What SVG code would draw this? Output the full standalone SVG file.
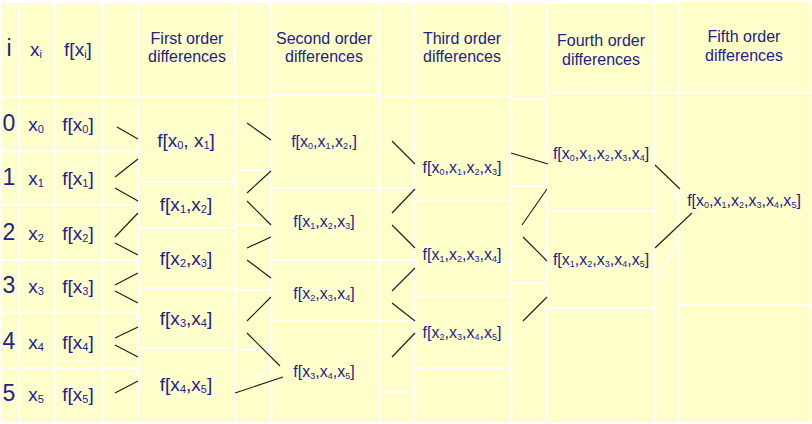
<svg xmlns="http://www.w3.org/2000/svg" width="812" height="424" viewBox="0 0 812 424">
<style>
.c{fill:#FFFFCC}
text{font-family:"Liberation Sans",Arial,sans-serif;fill:#222288;text-anchor:middle}
.big{font-size:23px}
.lab{font-size:19px}
.hd{font-size:16px}
.sm{font-size:16px}
.s1{font-size:11px}
.s2{font-size:9px}
.cn line{stroke:#1a1a1a;stroke-width:1.1}
.wl{stroke:#fff;stroke-width:1.5}
</style>
<rect width="812" height="424" fill="#fff"/>
<g id="grid">
<!-- C0..C2 -->
<g class="c">
<rect x="1" y="3" width="17" height="93"/><rect x="1" y="98" width="17" height="52"/><rect x="1" y="152" width="17" height="52"/><rect x="1" y="206" width="17" height="53"/><rect x="1" y="261" width="17" height="51"/><rect x="1" y="314" width="17" height="53"/><rect x="1" y="369" width="17" height="53"/>
<rect x="20" y="3" width="34" height="93"/><rect x="20" y="98" width="34" height="52"/><rect x="20" y="152" width="34" height="52"/><rect x="20" y="206" width="34" height="53"/><rect x="20" y="261" width="34" height="51"/><rect x="20" y="314" width="34" height="53"/><rect x="20" y="369" width="34" height="53"/>
<rect x="56" y="3" width="46" height="93"/><rect x="56" y="98" width="46" height="52"/><rect x="56" y="152" width="46" height="52"/><rect x="56" y="206" width="46" height="53"/><rect x="56" y="261" width="46" height="51"/><rect x="56" y="314" width="46" height="53"/><rect x="56" y="369" width="46" height="53"/>
<rect x="104" y="3" width="33" height="93"/><rect x="104" y="98" width="33" height="52"/><rect x="104" y="152" width="33" height="52"/><rect x="104" y="206" width="33" height="53"/><rect x="104" y="261" width="33" height="51"/><rect x="104" y="314" width="33" height="53"/><rect x="104" y="369" width="33" height="53"/>
<!-- first order -->
<rect x="139" y="3" width="95" height="93"/><rect x="139" y="98" width="95" height="83"/><rect x="139" y="183" width="95" height="44"/><rect x="139" y="229" width="95" height="58"/><rect x="139" y="289" width="95" height="58"/><rect x="139" y="349" width="95" height="73"/>
<rect x="236" y="3" width="34" height="93"/><rect x="236" y="98" width="34" height="71"/><rect x="236" y="171" width="34" height="53"/><rect x="236" y="226" width="34" height="63"/><rect x="236" y="291" width="34" height="58"/><rect x="236" y="351" width="34" height="71"/>
<!-- second order -->
<rect x="272" y="3" width="106" height="91"/><rect x="272" y="96" width="106" height="91"/><rect x="272" y="189" width="106" height="70"/><rect x="272" y="261" width="106" height="59"/><rect x="272" y="322" width="106" height="100"/>
<rect x="380" y="3" width="33" height="93"/><rect x="380" y="98" width="33" height="89"/><rect x="380" y="189" width="33" height="70"/><rect x="380" y="261" width="33" height="59"/><rect x="380" y="322" width="33" height="69"/><rect x="380" y="393" width="33" height="29"/>
<!-- third order -->
<rect x="415" y="3" width="95" height="93"/><rect x="415" y="98" width="95" height="102"/><rect x="415" y="202" width="95" height="94"/><rect x="415" y="298" width="95" height="69"/><rect x="415" y="369" width="95" height="53"/>
<rect x="512" y="3" width="33" height="95"/><rect x="512" y="100" width="33" height="85"/><rect x="512" y="187" width="33" height="95"/><rect x="512" y="284" width="33" height="138"/>
<!-- fourth order -->
<rect x="548" y="4" width="106" height="88"/><rect x="548" y="94" width="106" height="116"/><rect x="548" y="212" width="106" height="95"/><rect x="548" y="309" width="106" height="113"/>
<rect x="656" y="4" width="22" height="88"/><rect x="656" y="94" width="22" height="328"/>
<!-- fifth order -->
<rect x="680" y="2" width="131" height="90"/><rect x="680" y="94" width="131" height="210"/><rect x="680" y="306" width="131" height="116"/>
</g>
<line class="wl" x1="660" y1="183" x2="679" y2="198"/>
<line class="wl" x1="657" y1="282" x2="679" y2="237"/>
<line class="wl" x1="255" y1="380" x2="272" y2="363"/>
</g>
<g id="headers">
<g id="h-i"><text class="big" x="9" y="56">i</text></g>
<g id="h-x"><text class="lab" x="36" y="56">x<tspan class="s1" dy="2">i</tspan></text></g>
<g id="h-f"><text class="lab" x="78" y="56">f[x<tspan class="s1" dy="2">i</tspan><tspan dy="-2">]</tspan></text></g>
<g id="h-1"><text class="hd" x="187" y="44">First order</text><text class="hd" x="187" y="62">differences</text></g>
<g id="h-2"><text class="hd" x="324" y="44">Second order</text><text class="hd" x="324" y="62">differences</text></g>
<g id="h-3"><text class="hd" x="462" y="44">Third order</text><text class="hd" x="462" y="62">differences</text></g>
<g id="h-4"><text class="hd" x="601" y="46">Fourth order</text><text class="hd" x="601" y="65">differences</text></g>
<g id="h-5"><text class="hd" x="744" y="42">Fifth order</text><text class="hd" x="744" y="61">differences</text></g>
</g>
<g id="rows">
<g id="r0"><text class="big" x="9" y="131">0</text><text class="lab" x="36" y="131">x<tspan class="s1" dy="2">0</tspan></text><text class="lab" x="78" y="131">f[x<tspan class="s1" dy="2">0</tspan><tspan dy="-2">]</tspan></text></g>
<g id="r1"><text class="big" x="9" y="185">1</text><text class="lab" x="36" y="185">x<tspan class="s1" dy="2">1</tspan></text><text class="lab" x="78" y="185">f[x<tspan class="s1" dy="2">1</tspan><tspan dy="-2">]</tspan></text></g>
<g id="r2"><text class="big" x="9" y="240">2</text><text class="lab" x="36" y="240">x<tspan class="s1" dy="2">2</tspan></text><text class="lab" x="78" y="240">f[x<tspan class="s1" dy="2">2</tspan><tspan dy="-2">]</tspan></text></g>
<g id="r3"><text class="big" x="9" y="293">3</text><text class="lab" x="36" y="293">x<tspan class="s1" dy="2">3</tspan></text><text class="lab" x="78" y="293">f[x<tspan class="s1" dy="2">3</tspan><tspan dy="-2">]</tspan></text></g>
<g id="r4"><text class="big" x="9" y="349">4</text><text class="lab" x="36" y="349">x<tspan class="s1" dy="2">4</tspan></text><text class="lab" x="78" y="349">f[x<tspan class="s1" dy="2">4</tspan><tspan dy="-2">]</tspan></text></g>
<g id="r5"><text class="big" x="9" y="401">5</text><text class="lab" x="36" y="401">x<tspan class="s1" dy="2">5</tspan></text><text class="lab" x="78" y="401">f[x<tspan class="s1" dy="2">5</tspan><tspan dy="-2">]</tspan></text></g>
</g>
<g id="first">
<g id="d01"><text class="lab" x="186" y="147">f[x<tspan class="s1" dy="2">0</tspan><tspan dy="-2">, x</tspan><tspan class="s1" dy="2">1</tspan><tspan dy="-2">]</tspan></text></g>
<g id="d12"><text class="lab" x="186" y="211">f[x<tspan class="s1" dy="2">1</tspan><tspan dy="-2">,x</tspan><tspan class="s1" dy="2">2</tspan><tspan dy="-2">]</tspan></text></g>
<g id="d23"><text class="lab" x="186" y="265">f[x<tspan class="s1" dy="2">2</tspan><tspan dy="-2">,x</tspan><tspan class="s1" dy="2">3</tspan><tspan dy="-2">]</tspan></text></g>
<g id="d34"><text class="lab" x="186" y="325">f[x<tspan class="s1" dy="2">3</tspan><tspan dy="-2">,x</tspan><tspan class="s1" dy="2">4</tspan><tspan dy="-2">]</tspan></text></g>
<g id="d45"><text class="lab" x="186" y="391">f[x<tspan class="s1" dy="2">4</tspan><tspan dy="-2">,x</tspan><tspan class="s1" dy="2">5</tspan><tspan dy="-2">]</tspan></text></g>
</g>
<g id="second">
<g id="d012"><text class="sm" x="324" y="147">f[x<tspan class="s2" dy="2">0</tspan><tspan dy="-2">,x</tspan><tspan class="s2" dy="2">1</tspan><tspan dy="-2">,x</tspan><tspan class="s2" dy="2">2</tspan><tspan dy="-2">,]</tspan></text></g>
<g id="d123"><text class="sm" x="324" y="227">f[x<tspan class="s2" dy="2">1</tspan><tspan dy="-2">,x</tspan><tspan class="s2" dy="2">2</tspan><tspan dy="-2">,x</tspan><tspan class="s2" dy="2">3</tspan><tspan dy="-2">]</tspan></text></g>
<g id="d234"><text class="sm" x="324" y="299">f[x<tspan class="s2" dy="2">2</tspan><tspan dy="-2">,x</tspan><tspan class="s2" dy="2">3</tspan><tspan dy="-2">,x</tspan><tspan class="s2" dy="2">4</tspan><tspan dy="-2">]</tspan></text></g>
<g id="d345"><text class="sm" x="324" y="377">f[x<tspan class="s2" dy="2">3</tspan><tspan dy="-2">,x</tspan><tspan class="s2" dy="2">4</tspan><tspan dy="-2">,x</tspan><tspan class="s2" dy="2">5</tspan><tspan dy="-2">]</tspan></text></g>
</g>
<g id="third">
<g id="d0123"><text class="sm" x="462" y="173">f[x<tspan class="s2" dy="2">0</tspan><tspan dy="-2">,x</tspan><tspan class="s2" dy="2">1</tspan><tspan dy="-2">,x</tspan><tspan class="s2" dy="2">2</tspan><tspan dy="-2">,x</tspan><tspan class="s2" dy="2">3</tspan><tspan dy="-2">]</tspan></text></g>
<g id="d1234"><text class="sm" x="462" y="260">f[x<tspan class="s2" dy="2">1</tspan><tspan dy="-2">,x</tspan><tspan class="s2" dy="2">2</tspan><tspan dy="-2">,x</tspan><tspan class="s2" dy="2">3</tspan><tspan dy="-2">,x</tspan><tspan class="s2" dy="2">4</tspan><tspan dy="-2">]</tspan></text></g>
<g id="d2345"><text class="sm" x="462" y="338">f[x<tspan class="s2" dy="2">2</tspan><tspan dy="-2">,x</tspan><tspan class="s2" dy="2">3</tspan><tspan dy="-2">,x</tspan><tspan class="s2" dy="2">4</tspan><tspan dy="-2">,x</tspan><tspan class="s2" dy="2">5</tspan><tspan dy="-2">]</tspan></text></g>
</g>
<g id="fourth">
<g id="d01234"><text class="sm" x="601" y="159">f[x<tspan class="s2" dy="2">0</tspan><tspan dy="-2">,x</tspan><tspan class="s2" dy="2">1</tspan><tspan dy="-2">,x</tspan><tspan class="s2" dy="2">2</tspan><tspan dy="-2">,x</tspan><tspan class="s2" dy="2">3</tspan><tspan dy="-2">,x</tspan><tspan class="s2" dy="2">4</tspan><tspan dy="-2">]</tspan></text></g>
<g id="d12345"><text class="sm" x="601" y="265">f[x<tspan class="s2" dy="2">1</tspan><tspan dy="-2">,x</tspan><tspan class="s2" dy="2">2</tspan><tspan dy="-2">,x</tspan><tspan class="s2" dy="2">3</tspan><tspan dy="-2">,x</tspan><tspan class="s2" dy="2">4</tspan><tspan dy="-2">,x</tspan><tspan class="s2" dy="2">5</tspan><tspan dy="-2">]</tspan></text></g>
</g>
<g id="fifth">
<g id="d012345"><text class="sm" x="744" y="206">f[x<tspan class="s2" dy="2">0</tspan><tspan dy="-2">,x</tspan><tspan class="s2" dy="2">1</tspan><tspan dy="-2">,x</tspan><tspan class="s2" dy="2">2</tspan><tspan dy="-2">,x</tspan><tspan class="s2" dy="2">3</tspan><tspan dy="-2">,x</tspan><tspan class="s2" dy="2">4</tspan><tspan dy="-2">,x</tspan><tspan class="s2" dy="2">5</tspan><tspan dy="-2">]</tspan></text></g>
</g>
<g id="connectors" class="cn">
<line x1="117" y1="127" x2="138" y2="139"/>
<line x1="115" y1="177" x2="138" y2="159"/>
<line x1="115" y1="188" x2="138" y2="201"/>
<line x1="115" y1="237" x2="138" y2="213"/>
<line x1="115" y1="243" x2="138" y2="255"/>
<line x1="115" y1="285" x2="138" y2="273"/>
<line x1="115" y1="291" x2="138" y2="303"/>
<line x1="115" y1="338" x2="138" y2="327"/>
<line x1="115" y1="345" x2="138" y2="357"/>
<line x1="115" y1="393" x2="138" y2="381"/>
<line x1="247" y1="123" x2="271" y2="140"/>
<line x1="247" y1="193" x2="271" y2="171"/>
<line x1="247" y1="201" x2="271" y2="225"/>
<line x1="247" y1="248" x2="271" y2="237"/>
<line x1="247" y1="260" x2="271" y2="278"/>
<line x1="247" y1="321" x2="271" y2="297"/>
<line x1="247" y1="333" x2="280" y2="366"/>
<line x1="235" y1="393" x2="283" y2="377"/>
<line x1="392" y1="141" x2="415" y2="164"/>
<line x1="392" y1="213" x2="415" y2="189"/>
<line x1="392" y1="225" x2="415" y2="248"/>
<line x1="392" y1="291" x2="415" y2="268"/>
<line x1="392" y1="303" x2="415" y2="321"/>
<line x1="392" y1="357" x2="415" y2="333"/>
<line x1="511" y1="153" x2="548" y2="164"/>
<line x1="522" y1="225" x2="547" y2="189"/>
<line x1="523" y1="237" x2="547" y2="261"/>
<line x1="523" y1="321" x2="547" y2="297"/>
<line x1="655" y1="165" x2="680" y2="189"/>
<line x1="655" y1="248" x2="692" y2="213"/>
</g>
</svg>
